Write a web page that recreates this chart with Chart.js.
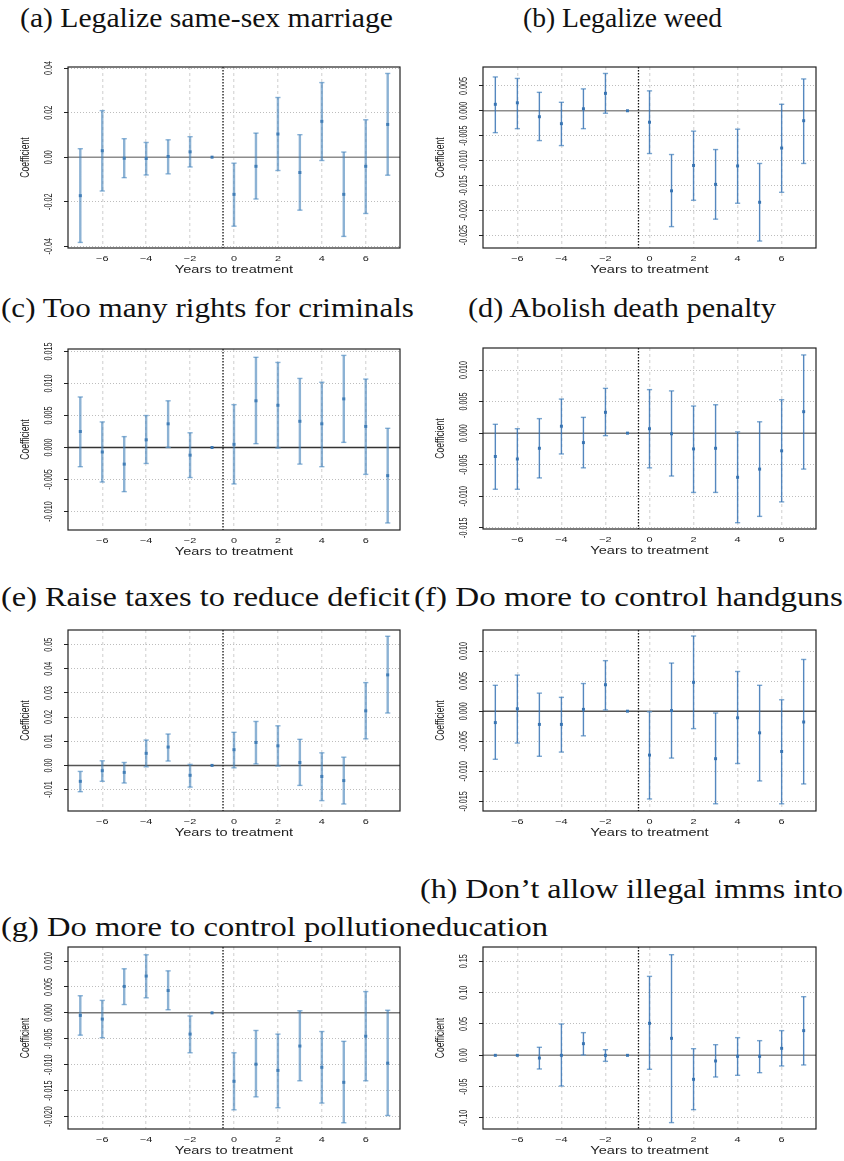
<!DOCTYPE html>
<html>
<head>
<meta charset="utf-8">
<script src="https://cdn.jsdelivr.net/npm/chart.js@4.4.1/dist/chart.umd.min.js"></script>
<style>
  html, body { margin: 0; padding: 0; background: #fff; }
  #page { position: relative; width: 844px; height: 1161px; overflow: hidden; }
  .cap { position: absolute; font-family: 'Liberation Serif', 'DejaVu Serif', serif; font-size: 27px; line-height: 27px;
         white-space: nowrap; color: #111; transform-origin: 0 0; }
  canvas { position: absolute; }
</style>
</head>
<body>
<div id="page"></div>
<script>
// years relative to treatment
const years = [-7, -6, -5, -4, -3, -2, -1, 0, 1, 2, 3, 4, 5, 6, 7];
const xTicks = [-6, -4, -2, 0, 2, 4, 6];

// (a) Legalize same-sex marriage
const coefA = [-0.0173, 0.0029, -0.0005, -0.0006, 0.0003, 0.0024, 0, -0.0167, -0.0041, 0.0104, -0.0069, 0.0161, -0.0167, -0.0041, 0.0147];
const loA   = [-0.0383, -0.0152, -0.0092, -0.0080, -0.0075, -0.0044, 0, -0.0310, -0.0188, -0.0060, -0.0238, -0.0015, -0.0356, -0.0253, -0.0081];
const hiA   = [0.0038, 0.0209, 0.0083, 0.0066, 0.0078, 0.0092, 0, -0.0027, 0.0108, 0.0268, 0.0101, 0.0335, 0.0023, 0.0168, 0.0376];
const yTicksA = [-0.04, -0.02, 0, 0.02, 0.04];

// (b) Legalize weed
const coefB = [0.0013, 0.0016, -0.0012, -0.0026, 0.0004, 0.0035, 0, -0.0023, -0.0161, -0.0110, -0.0148, -0.0111, -0.0184, -0.0075, -0.0020];
const loB   = [-0.0044, -0.0036, -0.0060, -0.0070, -0.0036, -0.0005, 0, -0.0086, -0.0233, -0.0180, -0.0218, -0.0186, -0.0262, -0.0164, -0.0106];
const hiB   = [0.0068, 0.0065, 0.0037, 0.0017, 0.0044, 0.0075, 0, 0.0040, -0.0088, -0.0041, -0.0078, -0.0037, -0.0106, 0.0013, 0.0064];
const yTicksB = [-0.025, -0.020, -0.015, -0.010, -0.005, 0, 0.005];

// (c) Too many rights for criminals
const coefC = [0.0025, -0.0007, -0.0026, 0.0012, 0.0037, -0.0012, 0, 0.0005, 0.0073, 0.0066, 0.0041, 0.0037, 0.0076, 0.0033, -0.0044];
const loC   = [-0.0030, -0.0054, -0.0069, -0.0025, 0.0000, -0.0047, 0, -0.0057, 0.0006, -0.0001, -0.0026, -0.0030, 0.0008, -0.0042, -0.0118];
const hiC   = [0.0079, 0.0040, 0.0017, 0.0050, 0.0073, 0.0023, 0, 0.0067, 0.0141, 0.0133, 0.0108, 0.0102, 0.0144, 0.0107, 0.0030];
const yTicksC = [-0.010, -0.005, 0, 0.005, 0.010, 0.015];

// (d) Abolish death penalty
const coefD = [-0.0037, -0.0041, -0.0024, 0.0011, -0.0015, 0.0033, 0, 0.0007, -0.0001, -0.0025, -0.0024, -0.0070, -0.0057, -0.0028, 0.0034];
const loD   = [-0.0089, -0.0089, -0.0071, -0.0033, -0.0055, -0.0004, 0, -0.0055, -0.0068, -0.0094, -0.0094, -0.0142, -0.0132, -0.0109, -0.0057];
const hiD   = [0.0014, 0.0007, 0.0023, 0.0054, 0.0025, 0.0071, 0, 0.0069, 0.0067, 0.0043, 0.0045, 0.0002, 0.0018, 0.0053, 0.0124];
const yTicksD = [-0.015, -0.010, -0.005, 0, 0.005, 0.010];

// (e) Raise taxes to reduce deficit
const coefE = [-0.0066, -0.0022, -0.0029, 0.0050, 0.0076, -0.0041, 0, 0.0065, 0.0095, 0.0081, 0.0012, -0.0046, -0.0063, 0.0226, 0.0375];
const loE   = [-0.0109, -0.0066, -0.0073, -0.0006, 0.0018, -0.0090, 0, -0.0010, 0.0006, -0.0003, -0.0083, -0.0146, -0.0160, 0.0110, 0.0217];
const hiE   = [-0.0025, 0.0019, 0.0012, 0.0105, 0.0130, 0.0004, 0, 0.0137, 0.0182, 0.0164, 0.0108, 0.0052, 0.0034, 0.0343, 0.0535];
const yTicksE = [-0.01, 0, 0.01, 0.02, 0.03, 0.04, 0.05];

// (f) Do more to control handguns
const coefF = [-0.0019, 0.0004, -0.0022, -0.0022, 0.0003, 0.0044, 0, -0.0073, 0.0001, 0.0048, -0.0079, -0.0011, -0.0036, -0.0067, -0.0018];
const loF   = [-0.0080, -0.0053, -0.0075, -0.0068, -0.0041, 0.0002, 0, -0.0146, -0.0078, -0.0029, -0.0154, -0.0087, -0.0116, -0.0154, -0.0121];
const hiF   = [0.0043, 0.0060, 0.0030, 0.0023, 0.0046, 0.0084, 0, -0.0001, 0.0080, 0.0125, -0.0003, 0.0066, 0.0043, 0.0019, 0.0086];
const yTicksF = [-0.015, -0.010, -0.005, 0, 0.005, 0.010];

// (g) Do more to control pollution
const coefG = [-0.0005, -0.0012, 0.0051, 0.0071, 0.0043, -0.0041, 0, -0.0132, -0.0099, -0.0111, -0.0064, -0.0105, -0.0134, -0.0045, -0.0097];
const loG   = [-0.0043, -0.0048, 0.0016, 0.0029, 0.0006, -0.0077, 0, -0.0187, -0.0162, -0.0183, -0.0131, -0.0174, -0.0212, -0.0131, -0.0198];
const hiG   = [0.0033, 0.0024, 0.0085, 0.0112, 0.0081, -0.0006, 0, -0.0077, -0.0034, -0.0041, 0.0004, -0.0036, -0.0055, 0.0041, 0.0005];
const yTicksG = [-0.020, -0.015, -0.010, -0.005, 0, 0.005, 0.010];

// (h) Don't allow illegal imms into education
const coefH = [0, 0, -0.0043, 0.0000, 0.0186, 0.0000, 0, 0.0511, 0.0271, -0.0383, -0.0090, -0.0016, -0.0016, 0.0112, 0.0394];
const loH   = [0, 0, -0.0218, -0.0490, 0.0005, -0.0096, 0, -0.0223, -0.1074, -0.0867, -0.0346, -0.0319, -0.0277, -0.0170, -0.0154];
const hiH   = [0, 0, 0.0128, 0.0500, 0.0362, 0.0090, 0, 0.1260, 0.1606, 0.0106, 0.0170, 0.0282, 0.0234, 0.0394, 0.0936];
const yTicksH = [-0.10, -0.05, 0, 0.05, 0.10, 0.15];

// panel frames: column, plot box top/bottom on the page, y limits, label decimals
const panels = [
  { coef: coefA, lo: loA, hi: hiA, ticks: yTicksA, dec: 2, col: 0, top: 67, bottom: 248, ymin: -0.0408, ymax: 0.0405, zero: '#8c8c8c' },
  { coef: coefB, lo: loB, hi: hiB, ticks: yTicksB, dec: 3, col: 1, top: 67, bottom: 248, ymin: -0.0276, ymax: 0.0088, zero: '#8c8c8c' },
  { coef: coefC, lo: loC, hi: hiC, ticks: yTicksC, dec: 3, col: 0, top: 349, bottom: 530, ymin: -0.0129, ymax: 0.0154, zero: '#333' },
  { coef: coefD, lo: loD, hi: hiD, ticks: yTicksD, dec: 3, col: 1, top: 348, bottom: 529, ymin: -0.0152, ymax: 0.0135, zero: '#777' },
  { coef: coefE, lo: loE, hi: hiE, ticks: yTicksE, dec: 2, col: 0, top: 630, bottom: 811, ymin: -0.0189, ymax: 0.0561, zero: '#555' },
  { coef: coefF, lo: loF, hi: hiF, ticks: yTicksF, dec: 3, col: 1, top: 630, bottom: 811, ymin: -0.0166, ymax: 0.0135, zero: '#555' },
  { coef: coefG, lo: loG, hi: hiG, ticks: yTicksG, dec: 3, col: 0, top: 947, bottom: 1129, ymin: -0.0224, ymax: 0.0127, zero: '#777' },
  { coef: coefH, lo: loH, hi: hiH, ticks: yTicksH, dec: 2, col: 1, top: 947, bottom: 1129, ymin: -0.1176, ymax: 0.1729, zero: '#8c8c8c' }
];

// captions: left/right extent and baseline on the page
const captions = [
  { text: '(a) Legalize same-sex marriage', x0: 20, x1: 393, base: 28 },
  { text: '(b) Legalize weed', x0: 523, x1: 722, base: 28 },
  { text: '(c) Too many rights for criminals', x0: 1, x1: 414, base: 318 },
  { text: '(d) Abolish death penalty', x0: 468, x1: 776, base: 318 },
  { text: '(e) Raise taxes to reduce deficit', x0: 1, x1: 410, base: 607 },
  { text: '(f) Do more to control handguns', x0: 414, x1: 843, base: 607 },
  { text: '(h) Don\u2019t allow illegal imms into', x0: 420, x1: 843, base: 899 },
  { text: '(g) Do more to control pollutioneducation', x0: 1, x1: 548, base: 937 }
];

const page = document.getElementById('page');

captions.forEach(c => {
  const d = document.createElement('div');
  d.className = 'cap';
  d.textContent = c.text;
  page.appendChild(d);
  const natural = d.getBoundingClientRect().width;
  d.style.left = c.x0 + 'px';
  d.style.top = (c.base - 22.6) + 'px';
  d.style.transform = 'scaleX(' + ((c.x1 - c.x0) / natural).toFixed(4) + ')';
});

const STRETCH = 1.4;   // the source figures were widened, text looks stretched
const PAD_TOP = 12;
const X_AXIS_H = 34;

// frame, zero line, treatment line and all axis text
const panelText = {
  id: 'panelText',
  beforeDatasetsDraw(chart, args, opts) {
    const { ctx, chartArea: a, scales: { x, y } } = chart;
    ctx.save();
    const y0 = y.getPixelForValue(0);
    ctx.strokeStyle = opts.zero;
    ctx.lineWidth = 1.5;
    ctx.beginPath(); ctx.moveTo(a.left, y0); ctx.lineTo(a.right, y0); ctx.stroke();
    const xv = x.getPixelForValue(-0.5);
    ctx.strokeStyle = '#111';
    ctx.lineWidth = 1.3;
    ctx.setLineDash([1.5, 1.5]);
    ctx.beginPath(); ctx.moveTo(xv, a.top); ctx.lineTo(xv, a.bottom); ctx.stroke();
    ctx.restore();
  },
  afterDraw(chart, args, opts) {
    const { ctx, chartArea: a, scales: { x, y } } = chart;
    ctx.save();
    ctx.strokeStyle = '#222';
    ctx.lineWidth = 1.2;
    ctx.strokeRect(a.left, a.top, a.right - a.left, a.bottom - a.top);

    ctx.fillStyle = '#222';
    ctx.textAlign = 'center';
    ctx.textBaseline = 'middle';

    // y tick labels, rotated
    ctx.font = '7.2px "Liberation Sans", Arial, sans-serif';
    opts.ticks.forEach(v => {
      const py = y.getPixelForValue(v);
      ctx.save();
      ctx.translate(a.left - 19, py);
      ctx.rotate(-Math.PI / 2);
      ctx.scale(1, STRETCH);
      ctx.fillText(v.toFixed(opts.dec), 0, 0);
      ctx.restore();
    });

    // y title
    ctx.font = '8.6px "Liberation Sans", Arial, sans-serif';
    ctx.save();
    ctx.translate(a.left - 42, (a.top + a.bottom) / 2);
    ctx.rotate(-Math.PI / 2);
    ctx.scale(1, STRETCH);
    ctx.fillText('Coefficient', 0, 0);
    ctx.restore();

    // x tick labels
    ctx.font = '7.8px "Liberation Sans", Arial, sans-serif';
    xTicks.forEach(v => {
      const px = x.getPixelForValue(v);
      ctx.save();
      ctx.translate(px, a.bottom + 10.5);
      ctx.scale(STRETCH, 1);
      ctx.fillText(v < 0 ? '\u2212' + Math.abs(v) : String(v), 0, 0);
      ctx.restore();
    });

    // x title
    ctx.font = '10.4px "Liberation Sans", Arial, sans-serif';
    ctx.save();
    ctx.translate((a.left + a.right) / 2, a.bottom + 22.5);
    ctx.scale(STRETCH, 1);
    ctx.fillText('Years to treatment', 0, 0);
    ctx.restore();
    ctx.restore();
  }
};

panels.forEach(p => {
  const colLeft = p.col === 0 ? 0 : 422;
  const yAxisW = p.col === 0 ? 68 : 61;
  const padRight = p.col === 0 ? 22 : 28;
  const boxH = p.bottom - p.top;

  const canvas = document.createElement('canvas');
  canvas.width = 422;
  canvas.height = PAD_TOP + boxH + X_AXIS_H;
  canvas.style.left = colLeft + 'px';
  canvas.style.top = (p.top - PAD_TOP) + 'px';
  page.appendChild(canvas);

  const bars = [], caps = [], pts = [];
  years.forEach((t, i) => {
    pts.push({ x: t, y: p.coef[i] });
    if (p.hi[i] !== p.lo[i]) {
      bars.push({ x: t, y: p.lo[i] }, { x: t, y: p.hi[i] }, { x: t, y: null });
      caps.push({ x: t, y: p.lo[i] }, { x: t, y: p.hi[i] });
    }
  });

  const thick = p.col === 0;

  new Chart(canvas, {
    type: 'scatter',
    data: {
      datasets: [{
        data: bars,
        showLine: true,
        spanGaps: false,
        pointRadius: 0,
        borderColor: thick ? 'rgba(70,130,185,0.62)' : 'rgba(55,115,180,0.85)',
        borderWidth: thick ? 2.4 : 1.4
      }, {
        data: caps,
        pointStyle: 'line',
        pointRadius: 2.6,
        borderColor: thick ? 'rgba(110,160,205,0.8)' : 'rgba(100,150,200,0.85)',
        borderWidth: 1.4
      }, {
        data: pts,
        pointStyle: 'rect',
        pointRadius: 2.1,
        backgroundColor: '#3a76b2',
        borderColor: '#3a76b2',
        borderWidth: 0
      }]
    },
    options: {
      responsive: false,
      animation: false,
      events: [],
      layout: { padding: { top: PAD_TOP, right: padRight, left: 0, bottom: 0 } },
      plugins: {
        legend: { display: false },
        tooltip: { enabled: false },
        panelText: { ticks: p.ticks, dec: p.dec, zero: p.zero }
      },
      scales: {
        x: {
          type: 'linear',
          min: -7.56,
          max: 7.56,
          afterBuildTicks: s => { s.ticks = xTicks.map(v => ({ value: v })); },
          afterFit: s => { s.height = X_AXIS_H; },
          ticks: { display: false },
          grid: { color: '#dcdcdc', lineWidth: 1.4, drawTicks: false },
          border: { display: false, dash: [3, 3] }
        },
        y: {
          type: 'linear',
          min: p.ymin,
          max: p.ymax,
          afterBuildTicks: s => { s.ticks = p.ticks.map(v => ({ value: v })); },
          afterFit: s => { s.width = yAxisW; },
          ticks: { display: false },
          grid: { color: '#bdbdbd', lineWidth: 1, drawTicks: true, tickLength: 4, tickColor: '#222', tickWidth: 1 },
          border: { display: false, dash: [1, 2] }
        }
      }
    },
    plugins: [panelText]
  });
});
</script>
</body>
</html>
